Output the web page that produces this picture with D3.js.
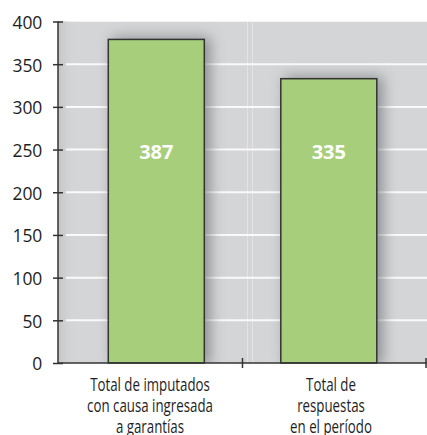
<!DOCTYPE html>
<html><head><meta charset="utf-8">
<script src="https://cdn.jsdelivr.net/npm/d3@7"></script>
<style>body{margin:0;background:#fff}svg{display:block}</style>
</head><body>
<script>
const categories = [["Total de imputados","con causa ingresada","a garantías"],["Total de","respuestas","en el período"]];
const barValues = [379, 333];
const valueLabels = ["387", "335"];
const yTicks = [0, 50, 100, 150, 200, 250, 300, 350, 400];

(function () {
const W = 427, H = 435;
const pl = 58, pr = 427, pt = 21.5, pb = 363;
const svg = d3.select("body").append("svg").attr("width", W).attr("height", H);
const font = "'Open Sans', 'Noto Sans', sans-serif";

const y = d3.scaleLinear().domain([0, 400]).range([pb, pt]);
const band = d3.scaleBand().domain([0, 1]).range([pl, pr]);
const barX = d3.scalePoint().domain([0, 1]).range([156.3, 328.8]);
const labelX = d3.scalePoint().domain([0, 1]).range([150, 331]);
const barW = 96;

const defs = svg.append("defs");
defs.append("clipPath").attr("id", "plotclip").append("rect")
  .attr("x", pl).attr("y", pt).attr("width", pr - pl).attr("height", pb - pt);
const f = defs.append("filter").attr("id", "blur").attr("x", "-50%").attr("y", "-50%").attr("width", "200%").attr("height", "200%");
f.append("feGaussianBlur").attr("stdDeviation", 7);
const lg = defs.append("linearGradient").attr("id", "leftshade").attr("x1", 0).attr("x2", 1);
lg.append("stop").attr("offset", 0).attr("stop-color", "#c4c5c7").attr("stop-opacity", 1);
lg.append("stop").attr("offset", 1).attr("stop-color", "#d4d5d7").attr("stop-opacity", 0);

// background
svg.append("rect").attr("x", pl).attr("y", pt).attr("width", pr - pl).attr("height", pb - pt).attr("fill", "#d4d5d7");
svg.append("rect").attr("x", pl).attr("y", pt).attr("width", 18).attr("height", pb - pt).attr("fill", "url(#leftshade)");

// faint panel seams
const seam = band(1);
svg.append("g").selectAll("line").data([seam + 5, seam + 10]).join("line")
  .attr("x1", d => d).attr("x2", d => d).attr("y1", pt).attr("y2", pb)
  .attr("stroke", "#ffffff").attr("stroke-opacity", 0.35).attr("stroke-width", 1);

// gridlines
svg.append("g").selectAll("line").data(yTicks.filter(d => d > 0)).join("line")
  .attr("x1", pl + 8).attr("x2", pr).attr("y1", d => y(d)).attr("y2", d => y(d))
  .attr("stroke", "#fafafa").attr("stroke-width", d => d === 400 ? 1 : 2)
  .attr("stroke-opacity", d => d === 400 ? 0.5 : 1);

// shadows
svg.append("g").attr("clip-path", "url(#plotclip)").selectAll("rect").data(barValues).join("rect")
  .attr("x", (d, i) => barX(i) - barW / 2 + 4).attr("y", d => y(d) - 2)
  .attr("width", barW + 2).attr("height", d => pb - y(d) + 4)
  .attr("fill", "#6f7275").attr("opacity", 0.7).attr("filter", "url(#blur)");

// bars
svg.append("g").selectAll("rect").data(barValues).join("rect")
  .attr("x", (d, i) => barX(i) - barW / 2).attr("y", d => y(d))
  .attr("width", barW).attr("height", d => pb - y(d))
  .attr("fill", "#a7ce7b").attr("stroke", "#333333").attr("stroke-width", 1.5);

// value labels
svg.append("g").selectAll("text").data(valueLabels).join("text")
  .attr("x", (d, i) => barX(i)).attr("y", 159)
  .attr("text-anchor", "middle").attr("font-family", font).attr("font-weight", "bold")
  .attr("font-size", 20).attr("fill", "#ffffff").text(d => d);

// y axis
const yAxis = svg.append("g").attr("transform", `translate(${pl},0)`)
  .call(d3.axisLeft(y).tickValues(yTicks).tickSize(5).tickPadding(12));
yAxis.select(".domain").attr("stroke", "#333").attr("stroke-width", 1.5).attr("d", `M0,${pt}V${pb}`);
yAxis.selectAll(".tick line").attr("stroke", "#333").attr("stroke-width", 1.5).attr("x1", 5).attr("x2", -5);
yAxis.selectAll(".tick text").attr("font-family", font).attr("font-size", 19).attr("fill", "#1e1e1e")
  .attr("dy", "0.36em").attr("transform", "scale(0.92,1)").attr("x", -17);

// x axis
svg.append("line").attr("x1", pl).attr("x2", pr).attr("y1", pb).attr("y2", pb)
  .attr("stroke", "#333").attr("stroke-width", 1.5);
svg.append("g").selectAll("line").data([band(1), pr - 1]).join("line")
  .attr("x1", d => d).attr("x2", d => d).attr("y1", pb - 5).attr("y2", pb + 5)
  .attr("stroke", "#333").attr("stroke-width", 1.5);

// category labels
const cl = svg.append("g").selectAll("g").data(categories).join("g")
  .attr("transform", (d, i) => `translate(${labelX(i)},0) scale(0.7,1)`);
cl.append("text").attr("text-anchor", "middle").attr("font-family", font).attr("font-size", 19).attr("fill", "#1e1e1e")
  .selectAll("tspan").data(d => d).join("tspan")
  .attr("x", 0).attr("y", (d, j) => 391.5 + j * 21).text(d => d);
})();
</script>
</body></html>
